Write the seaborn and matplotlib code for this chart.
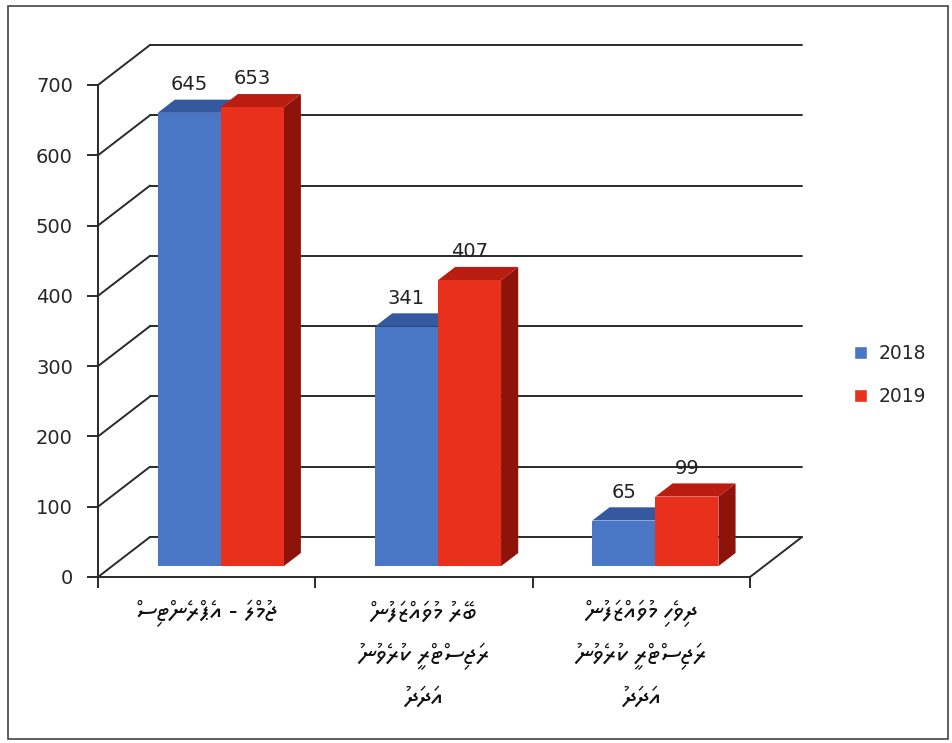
import pandas as pd
import numpy as np
import matplotlib
matplotlib.use("Agg")
import matplotlib.pyplot as plt
import matplotlib.transforms as mtransforms
from matplotlib.patches import Polygon, Rectangle
import seaborn as sns

# データ
categories = [
    "ޖުމްލަ - އެޕްރެންޓިސް",
    "ބޭރު މުވައްޒަފުން\nރަޖިސްޓްރީ ކުރެވުނު\nއަދަދު",
    "ދިވެހި މުވައްޒަފުން\nރަޖިސްޓްރީ ކުރެވުނު\nއަދަދު",
]
years = ["2018", "2019"]
values_2018 = [645, 341, 65]
values_2019 = [653, 407, 99]
yticks = [0, 100, 200, 300, 400, 500, 600, 700]

front_colors = {"2018": "#4a76c6", "2019": "#e8301c"}
top_colors = {"2018": "#34599e", "2019": "#b81d10"}
side_colors = {"2018": "#2b4a85", "2019": "#8e130a"}


def thaana_visual(text):
    # matplotlib は RTL/シェーピングを扱わないので行ごとに文字順を反転
    # (フィリは基字の前に置くと基字の上に重なる)
    return "\n".join(line[::-1] for line in text.split("\n"))


df = pd.DataFrame({
    "category": categories * 2,
    "year": [years[0]] * 3 + [years[1]] * 3,
    "value": values_2018 + values_2019,
})

sns.set_style("white")
plt.rcParams["font.family"] = ["DejaVu Sans"]

W, H = 953, 743
fig = plt.figure(figsize=(W / 100, H / 100), dpi=100)
ax = fig.add_axes([98 / W, (H - 577) / H, (750 - 98) / W, (577 - 85) / H])

sns.barplot(data=df, x="category", y="value", hue="year", order=categories,
            hue_order=years, palette=front_colors, width=0.58, gap=0,
            saturation=1, ax=ax, zorder=3)

ax.set_xlim(-0.5, 2.5)
ax.set_ylim(0, 700)

# 3D の奥行き（データ単位）
DX = 52 / ((750 - 98) / 3)
DY = 40 / ((577 - 85) / 700)
F0, F1 = 0.27, 0.60

line_kw = dict(color="#2a2a2a", lw=1.4, clip_on=False, zorder=1)
for y in yticks:
    ax.plot([-0.5, -0.5 + DX], [y, y + DY], **line_kw)
    ax.plot([-0.5 + DX, 2.5 + DX], [y + DY, y + DY], **line_kw)
ax.plot([2.5, 2.5 + DX], [0, DY], **line_kw)

shift = mtransforms.Affine2D().translate(F0 * DX, F0 * DY) + ax.transData
for yr, cont in zip(years, ax.containers):
    for bar in cont:
        x, w, h = bar.get_x(), bar.get_width(), bar.get_height()
        bar.set_transform(shift)
        bar.set_edgecolor("none")
        bar.set_clip_on(False)
        ox0, oy0 = F0 * DX, F0 * DY
        ox1, oy1 = F1 * DX, F1 * DY
        side = Polygon([(x + w + ox0, oy0), (x + w + ox1, oy1),
                        (x + w + ox1, h + oy1), (x + w + ox0, h + oy0)],
                       closed=True, fc=side_colors[yr], ec="none",
                       zorder=2, clip_on=False)
        top = Polygon([(x + ox0, h + oy0), (x + w + ox0, h + oy0),
                       (x + w + ox1, h + oy1), (x + ox1, h + oy1)],
                      closed=True, fc=top_colors[yr], ec="none",
                      zorder=2, clip_on=False)
        ax.add_patch(side)
        ax.add_patch(top)
        ax.annotate(f"{h:.0f}", (x + w / 2 + ox0, h + oy1),
                    xytext=(0, 4), textcoords="offset points",
                    ha="center", va="bottom", fontsize=14, color="#222222",
                    annotation_clip=False, zorder=5)

ax.set_yticks(yticks)
ax.set_xticks(range(3))
ax.set_xticklabels([thaana_visual(c) for c in categories], fontsize=19,
                   linespacing=1.65, va="top", color="#111111",
                   family=["Noto Sans Thaana", "DejaVu Sans"])
ax.set_xticks([-0.5, 0.5, 1.5, 2.5], minor=True)
ax.tick_params(axis="x", which="major", length=0, pad=16)
ax.tick_params(axis="x", which="minor", length=8, width=1.4, color="#2a2a2a",
               direction="out", bottom=True)
ax.tick_params(axis="y", length=8, width=1.4, color="#2a2a2a", direction="out",
               left=True, labelsize=14, pad=10)
ax.set_xlabel("")
ax.set_ylabel("")
for s in ["top", "right"]:
    ax.spines[s].set_visible(False)
for s in ["left", "bottom"]:
    ax.spines[s].set_color("#2a2a2a")
    ax.spines[s].set_linewidth(1.4)
    ax.spines[s].set_zorder(1)
ax.set_facecolor("none")

handles, labels = ax.get_legend_handles_labels()
ax.legend(handles, labels, loc="center left",
          bbox_to_anchor=(837 / W, (H - 375) / H),
          bbox_transform=fig.transFigure, frameon=False, fontsize=13.5,
          handlelength=0.7, handleheight=0.7, handletextpad=0.6,
          labelspacing=1.3)

fig.patches.append(Rectangle((8 / W, 4 / H), 940 / W, 733 / H,
                             transform=fig.transFigure, fill=False,
                             ec="#444444", lw=1.2))

fig.savefig("out.png", dpi=100)
plt.close(fig)
